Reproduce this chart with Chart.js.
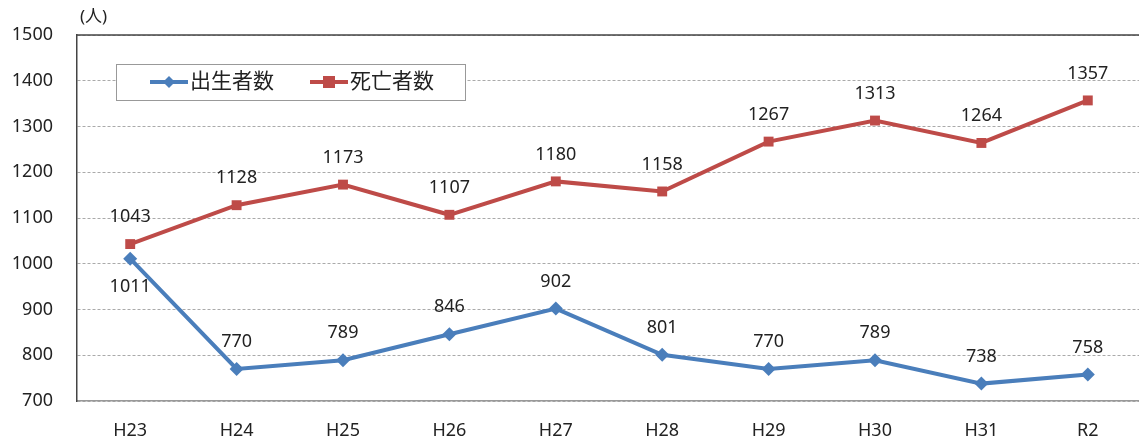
<!DOCTYPE html>
<html>
<head>
<meta charset="utf-8">
<script src="https://cdn.jsdelivr.net/npm/chart.js@4"></script>
<style>
  html, body { margin: 0; padding: 0; background: #fff; overflow: hidden; }
  #wrap { width: 1148px; height: 444px; }
</style>
</head>
<body>
<div id="wrap"><canvas id="chart"></canvas></div>
<script>
const years = ['H23', 'H24', 'H25', 'H26', 'H27', 'H28', 'H29', 'H30', 'H31', 'R2'];
const births = [1011, 770, 789, 846, 902, 801, 770, 789, 738, 758];
const deaths = [1043, 1128, 1173, 1107, 1180, 1158, 1267, 1313, 1264, 1357];
const series_names = ['出生者数', '死亡者数'];
const colors = ['#4a7ebb', '#be4b48'];
const font_family = "'Noto Sans', 'Noto Sans CJK JP', sans-serif";

// value labels, the unit label, top border and the boxed legend
const extras = {
    id: 'extras',
    afterDatasetsDraw(chart) {
        const ctx = chart.ctx;
        const area = chart.chartArea;
        ctx.save();

        // top border of the plot
        ctx.strokeStyle = '#444';
        ctx.lineWidth = 1.5;
        ctx.beginPath();
        ctx.moveTo(area.left, area.top);
        ctx.lineTo(area.right, area.top);
        ctx.stroke();

        ctx.fillStyle = '#222';
        ctx.font = '18px ' + font_family;
        ctx.textAlign = 'center';
        ctx.textBaseline = 'middle';
        chart.data.datasets.forEach((ds, i) => {
            chart.getDatasetMeta(i).data.forEach((pt, j) => {
                // first birth label sits under its point
                const below = (i === 0 && j === 0);
                ctx.fillText(String(ds.data[j]), pt.x, below ? pt.y + 28 : pt.y - 27);
            });
        });

        // unit
        ctx.font = '17px ' + font_family;
        ctx.textAlign = 'left';
        ctx.fillText('(人)', area.left + 3, 17);

        // legend box
        ctx.fillStyle = '#fff';
        ctx.fillRect(116, 64, 349, 36);
        ctx.strokeStyle = '#999';
        ctx.lineWidth = 1;
        ctx.strokeRect(116.5, 64.5, 349, 36);
        const items = [{ x: 150, style: 'diamond' }, { x: 310, style: 'square' }];
        items.forEach((it, i) => {
            const y = 82;
            ctx.strokeStyle = colors[i];
            ctx.fillStyle = colors[i];
            ctx.lineWidth = 4;
            ctx.beginPath();
            ctx.moveTo(it.x, y);
            ctx.lineTo(it.x + 38, y);
            ctx.stroke();
            const cx = it.x + 19;
            ctx.beginPath();
            if (it.style === 'diamond') {
                ctx.moveTo(cx, y - 6); ctx.lineTo(cx + 6, y); ctx.lineTo(cx, y + 6); ctx.lineTo(cx - 6, y);
                ctx.closePath();
                ctx.fill();
            } else {
                ctx.fillRect(cx - 6, y - 6, 12, 12);
            }
            ctx.fillStyle = '#222';
            ctx.font = '21px ' + font_family;
            ctx.textBaseline = 'middle';
            ctx.fillText(series_names[i], it.x + 40, y);
        });
        ctx.restore();
    }
};

const canvas = document.getElementById('chart');

new Chart(canvas, {
    type: 'line',
    data: {
        labels: years,
        datasets: [{
            label: series_names[0],
            data: births,
            borderColor: colors[0],
            backgroundColor: colors[0],
            borderWidth: 4,
            pointStyle: 'rectRot',
            pointRadius: 7,
            pointBorderWidth: 0,
        }, {
            label: series_names[1],
            data: deaths,
            borderColor: colors[1],
            backgroundColor: colors[1],
            borderWidth: 4,
            pointStyle: 'rect',
            pointRadius: 7,
            pointBorderWidth: 0,
        }]
    },
    options: {
        responsive: true,
        maintainAspectRatio: false,
        animation: false,
        layout: { padding: { top: 35, right: 0, left: 0, bottom: 0 } },
        plugins: {
            legend: { display: false },
            tooltip: { enabled: false },
        },
        scales: {
            x: {
                offset: true,
                grid: { display: false, drawTicks: false },
                border: { color: '#999', width: 1.5 },
                ticks: { color: '#222', font: { size: 18, family: font_family }, padding: 19, maxRotation: 0 },
                afterFit(scale) { scale.height = 43; },
            },
            y: {
                min: 700,
                max: 1500,
                grid: { color: '#aaa', drawTicks: false },
                border: { color: '#444', width: 1.5, dash: [3, 2] },
                ticks: {
                    stepSize: 100, color: '#222', font: { size: 18, family: font_family }, padding: 24,
                    callback: (v) => String(v),
                },
                afterFit(scale) { scale.width = 77; },
            }
        }
    },
    plugins: [extras],
});
</script>
</body>
</html>
